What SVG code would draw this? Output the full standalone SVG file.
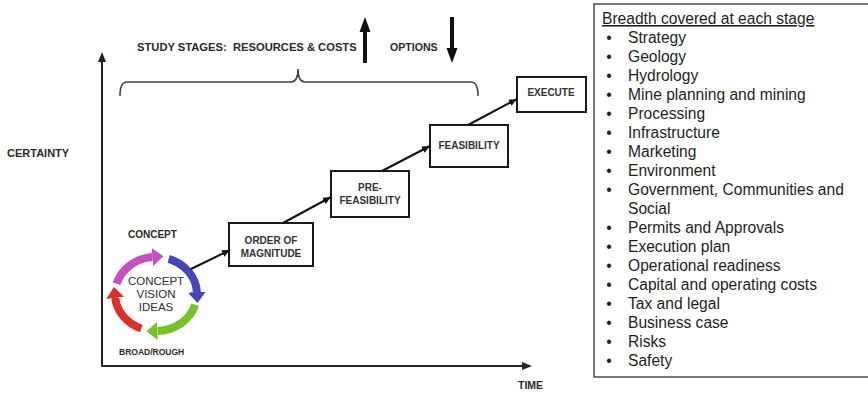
<svg xmlns="http://www.w3.org/2000/svg" width="868" height="394" viewBox="0 0 868 394">
  <style>
    .lbl { font-family: "Liberation Sans", Arial, sans-serif; font-weight: bold; fill: #2a2a2a; }
    .stage { font-family: "Liberation Sans", Arial, sans-serif; font-weight: bold; font-size: 10px; fill: #333; text-anchor: middle; }
    .box { fill: #fff; stroke: #1a1a1a; stroke-width: 2; }
    .conn { fill: none; stroke: #111; stroke-width: 2; }
    .axis { fill: none; stroke: #222; stroke-width: 2; }
    .list { font-family: "Liberation Sans", Arial, sans-serif; font-size: 15.6px; fill: #1e1e1e; }
    .ring { fill: none; stroke-width: 8; }
  </style>
  <defs>
    <marker id="tip" markerUnits="userSpaceOnUse" viewBox="0 0 8 8" refX="8" refY="4" markerWidth="8" markerHeight="8" orient="auto">
      <path d="M0,0.5 L8,4 L0,7.5 z" fill="#111"/>
    </marker>
    <marker id="headMagenta" markerUnits="userSpaceOnUse" viewBox="0 0 11 18" refX="0" refY="9" markerWidth="11" markerHeight="18" orient="auto">
      <path d="M0,0 L11,9 L0,18 z" fill="#c64fc4"/>
    </marker>
    <marker id="headBlue" markerUnits="userSpaceOnUse" viewBox="0 0 11 18" refX="0" refY="9" markerWidth="11" markerHeight="18" orient="auto">
      <path d="M0,0 L11,9 L0,18 z" fill="#4646b8"/>
    </marker>
    <marker id="headGreen" markerUnits="userSpaceOnUse" viewBox="0 0 11 18" refX="0" refY="9" markerWidth="11" markerHeight="18" orient="auto">
      <path d="M0,0 L11,9 L0,18 z" fill="#77c224"/>
    </marker>
    <marker id="headRed" markerUnits="userSpaceOnUse" viewBox="0 0 11 18" refX="0" refY="9" markerWidth="11" markerHeight="18" orient="auto">
      <path d="M0,0 L11,9 L0,18 z" fill="#df2d27"/>
    </marker>
  </defs>

  <rect width="868" height="394" fill="#fff"/>

  <!-- axes -->
  <g id="axes">
    <path class="axis" d="M102,366 L102,60"/>
    <path d="M98,62 L102,52 L106,62 z" fill="#222"/>
    <path class="axis" d="M101,366 L524,366"/>
    <path d="M522,362 L532,366 L522,370 z" fill="#222"/>
    <text class="lbl" x="7" y="157" font-size="11">CERTAINTY</text>
    <text class="lbl" x="518" y="389" font-size="10.5">TIME</text>
  </g>

  <!-- header: study stages, resources and options -->
  <g id="header">
    <text class="lbl" x="137" y="51" font-size="11.2">STUDY STAGES:&#160; RESOURCES &amp; COSTS</text>
    <path d="M365,63 L365,30" stroke="#111" stroke-width="4" fill="none"/>
    <path d="M359.5,32 L365,17 L370.5,32 z" fill="#111"/>
    <text class="lbl" x="390" y="51" font-size="10.6">OPTIONS</text>
    <path d="M452,17 L452,50" stroke="#111" stroke-width="4" fill="none"/>
    <path d="M446.5,48 L452,63 L457.5,48 z" fill="#111"/>
    <path d="M120,96 Q120,82 127,82 L291,82 Q298,82 298,69 Q298,82 305,82 L471,82 Q478,82 478,96" fill="none" stroke="#444" stroke-width="1.6"/>
  </g>

  <!-- concept cycle -->
  <g id="concept">
    <text class="lbl" x="128" y="238" font-size="10">CONCEPT</text>
    <path class="ring" stroke="#c64fc4" d="M116.6,283.8 A41,37 0 0 1 152.4,257.1" marker-end="url(#headMagenta)"/>
    <path class="ring" stroke="#4646b8" d="M168.7,258.8 A41,37 0 0 1 196.9,292.1" marker-end="url(#headBlue)"/>
    <path class="ring" stroke="#77c224" d="M195.2,304.8 A41,37 0 0 1 157.4,331.0" marker-end="url(#headGreen)"/>
    <path class="ring" stroke="#df2d27" d="M141.3,328.5 A41,37 0 0 1 115.2,297.9" marker-end="url(#headRed)"/>
    <g font-family="'Liberation Sans', Arial, sans-serif" font-size="11.5" fill="#2e2e2e" text-anchor="middle">
      <text x="156" y="285">CONCEPT</text>
      <text x="156" y="298">VISION</text>
      <text x="156" y="311">IDEAS</text>
    </g>
    <text class="lbl" x="119" y="355" font-size="8.5">BROAD/ROUGH</text>
  </g>

  <!-- study stage boxes -->
  <g id="order-of-magnitude">
    <rect class="box" x="229" y="223" width="84" height="43"/>
    <text class="stage" x="271" y="244">ORDER OF</text>
    <text class="stage" x="271" y="257">MAGNITUDE</text>
  </g>
  <g id="pre-feasibility">
    <rect class="box" x="331" y="171" width="78" height="46"/>
    <text class="stage" x="370" y="191">PRE-</text>
    <text class="stage" x="370" y="204">FEASIBILITY</text>
  </g>
  <g id="feasibility">
    <rect class="box" x="430" y="125" width="78" height="42"/>
    <text class="stage" x="469" y="149">FEASIBILITY</text>
  </g>
  <g id="execute">
    <rect class="box" x="517" y="77" width="69" height="35"/>
    <text class="stage" x="551" y="96">EXECUTE</text>
  </g>

  <!-- connectors -->
  <g id="connectors">
    <path class="conn" d="M191,269 L230,250" marker-end="url(#tip)"/>
    <path class="conn" d="M283,223 L331,197" marker-end="url(#tip)"/>
    <path class="conn" d="M382,171 L430,146" marker-end="url(#tip)"/>
    <path class="conn" d="M468,125 L517,99" marker-end="url(#tip)"/>
  </g>

  <!-- breadth panel -->
  <g id="breadth">
    <rect x="594" y="4" width="280" height="373" fill="#fff" stroke="#555" stroke-width="1.6"/>
    <text class="list" x="602" y="24" text-decoration="underline">Breadth covered at each stage</text>
    <g class="list" text-anchor="middle">
      <text x="609" y="43">•</text>
      <text x="609" y="62">•</text>
      <text x="609" y="81">•</text>
      <text x="609" y="100">•</text>
      <text x="609" y="119">•</text>
      <text x="609" y="138">•</text>
      <text x="609" y="157">•</text>
      <text x="609" y="176">•</text>
      <text x="609" y="195">•</text>
      <text x="609" y="233">•</text>
      <text x="609" y="252">•</text>
      <text x="609" y="271">•</text>
      <text x="609" y="290">•</text>
      <text x="609" y="309">•</text>
      <text x="609" y="328">•</text>
      <text x="609" y="347">•</text>
      <text x="609" y="366">•</text>
    </g>
    <g class="list">
      <text x="628" y="43">Strategy</text>
      <text x="628" y="62">Geology</text>
      <text x="628" y="81">Hydrology</text>
      <text x="628" y="100">Mine planning and mining</text>
      <text x="628" y="119">Processing</text>
      <text x="628" y="138">Infrastructure</text>
      <text x="628" y="157">Marketing</text>
      <text x="628" y="176">Environment</text>
      <text x="628" y="195">Government, Communities and</text>
      <text x="628" y="214">Social</text>
      <text x="628" y="233">Permits and Approvals</text>
      <text x="628" y="252">Execution plan</text>
      <text x="628" y="271">Operational readiness</text>
      <text x="628" y="290">Capital and operating costs</text>
      <text x="628" y="309">Tax and legal</text>
      <text x="628" y="328">Business case</text>
      <text x="628" y="347">Risks</text>
      <text x="628" y="366">Safety</text>
    </g>
  </g>
</svg>
